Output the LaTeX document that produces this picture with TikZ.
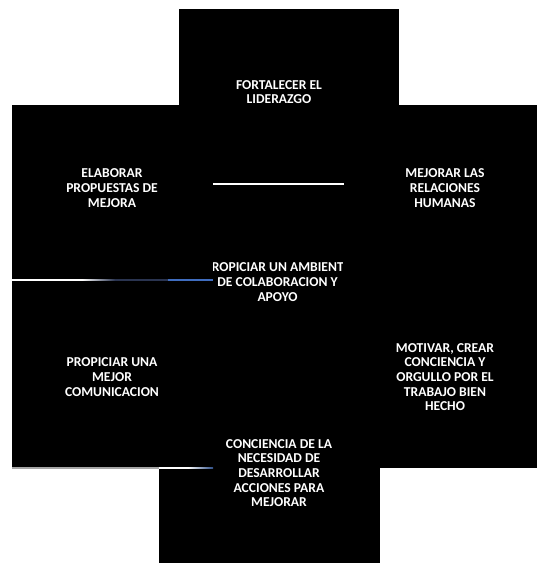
\documentclass[tikz,border=0pt]{standalone}
\usepackage{fontspec}
\setmainfont{Carlito}
\definecolor{lineblue}{HTML}{3F6DBF}
\definecolor{dimblue}{HTML}{2A3450}
\begin{document}
\begin{tikzpicture}[x=1pt,y=-1pt,
  lbl/.style={text=white, font=\bfseries\fontsize{13.6}{14.7}\selectfont, align=center, inner sep=0pt},
  sep/.style={line width=1.2pt}]
\useasboundingbox (0,0) rectangle (537,563);
% black panels
\fill[black] (179,9) rectangle (399,105);
\fill[black] (12,105) rectangle (537,468);
\fill[black] (159,468) rectangle (380,563);
% separator lines
\draw[sep, white] (213,184) -- (344,184);
\draw[sep, white] (12,280) -- (82,280);
\shade[left color=white, right color=dimblue] (82,279.4) rectangle (115,280.6);
\draw[sep, dimblue] (115,280) -- (168,280);
\draw[sep, lineblue] (168,280) -- (213,280);
\draw[sep, gray!70] (12,468) -- (159,468);
\draw[sep, white] (159,468) -- (188,468);
\shade[left color=white, right color=lineblue!70!black] (188,467.4) rectangle (213,468.6);
% labels
\node[lbl] (top) at (279,92) {FORTALECER EL\\LIDERAZGO};
\node[lbl] (ul) at (112,188) {ELABORAR\\PROPUESTAS DE\\MEJORA};
\node[lbl] (ur) at (445,188) {MEJORAR LAS\\RELACIONES\\HUMANAS};
\begin{scope}
\clip (213,250) rectangle (342.5,310);
\node[lbl] (mid) at (277.5,282) {PROPICIAR UN AMBIENTE\\DE COLABORACION Y\\APOYO};
\end{scope}
\node[lbl] (ll) at (112,377) {PROPICIAR UNA\\MEJOR\\COMUNICACION};
\node[lbl] (lr) at (445,377) {MOTIVAR, CREAR\\CONCIENCIA Y\\ORGULLO POR EL\\TRABAJO BIEN\\HECHO};
\node[lbl] (bot) at (279,473) {CONCIENCIA DE LA\\NECESIDAD DE\\DESARROLLAR\\ACCIONES PARA\\MEJORAR};
\end{tikzpicture}
\end{document}
